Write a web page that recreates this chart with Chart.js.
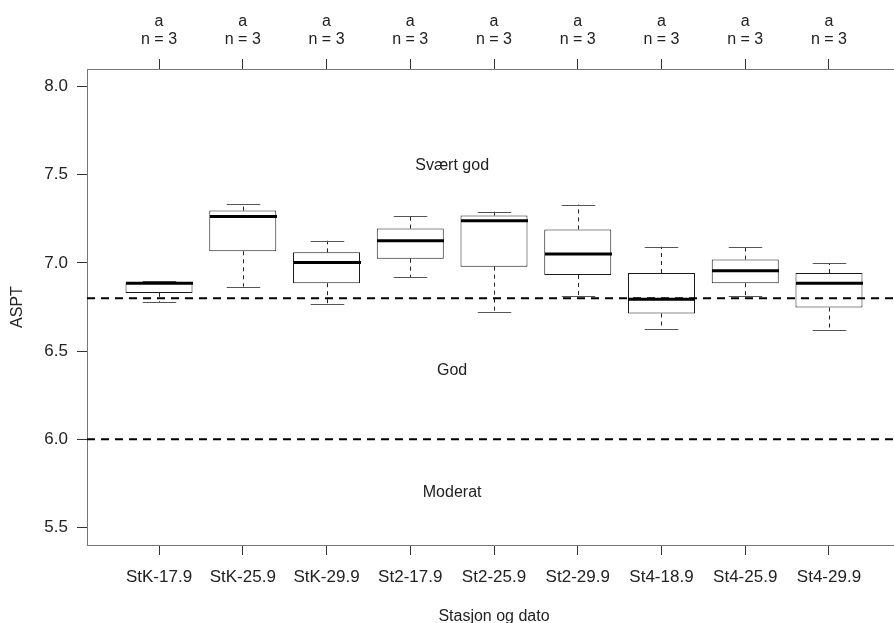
<!DOCTYPE html>
<html>
<head>
<meta charset="utf-8">
<script src="https://cdn.jsdelivr.net/npm/chart.js@4"></script>
<style>
  body { margin: 0; background: #fff; overflow: hidden; }
  #wrap { width: 910px; height: 623px; }
</style>
</head>
<body>
<div id="wrap"><canvas id="asptChart" width="910" height="623"></canvas></div>
<script>
const stations = ["StK-17.9", "StK-25.9", "StK-29.9", "St2-17.9", "St2-25.9", "St2-29.9", "St4-18.9", "St4-25.9", "St4-29.9"];
const groupLetters = ["a", "a", "a", "a", "a", "a", "a", "a", "a"];
const groupSizes = [3, 3, 3, 3, 3, 3, 3, 3, 3];
const whiskerLow = [6.78, 6.866, 6.766, 6.919, 6.719, 6.81, 6.625, 6.81, 6.62];
const quartile1 = [6.83, 7.066, 6.885, 7.024, 6.979, 6.932, 6.713, 6.885, 6.747];
const medians = [6.885, 7.263, 7.003, 7.126, 7.239, 7.051, 6.794, 6.955, 6.885];
const quartile3 = [6.89, 7.297, 7.06, 7.195, 7.269, 7.19, 6.943, 7.019, 6.943];
const whiskerHigh = [6.895, 7.333, 7.126, 7.267, 7.29, 7.331, 7.092, 7.092, 7.0];
const yTickValues = [5.5, 6.0, 6.5, 7.0, 7.5, 8.0];
const classLimits = [6.8, 6.0];
const classNames = ["Svært god", "God", "Moderat"];
const classNameLevels = [7.55, 6.39, 5.7];

const positions = stations.map((s, i) => i + 1);
const font = "Liberation Sans, Arial, sans-serif";

const boxExtras = {
    id: "boxExtras",
    afterDatasetsDraw(chart) {
        const { ctx, chartArea, scales } = chart;
        const x = scales.x, y = scales.y;
        const half = (x.getPixelForValue(1.4) - x.getPixelForValue(1)); // box half width
        ctx.save();
        ctx.beginPath();
        ctx.rect(chartArea.left, chartArea.top, chartArea.right - chartArea.left, chartArea.bottom - chartArea.top);
        ctx.clip();

        positions.forEach((p, i) => {
            const cx = Math.round(x.getPixelForValue(p)) + 0.5;
            // whiskers
            ctx.strokeStyle = "#222";
            ctx.lineWidth = 1;
            ctx.setLineDash([4, 4]);
            ctx.beginPath();
            ctx.moveTo(cx, y.getPixelForValue(quartile3[i]));
            ctx.lineTo(cx, y.getPixelForValue(whiskerHigh[i]));
            ctx.moveTo(cx, y.getPixelForValue(quartile1[i]));
            ctx.lineTo(cx, y.getPixelForValue(whiskerLow[i]));
            ctx.stroke();
            // staples
            ctx.setLineDash([]);
            ctx.strokeStyle = "#555";
            ctx.beginPath();
            [whiskerHigh[i], whiskerLow[i]].forEach(v => {
                const py = Math.round(y.getPixelForValue(v)) + 0.5;
                ctx.moveTo(cx - half / 2, py);
                ctx.lineTo(cx + half / 2, py);
            });
            ctx.stroke();
            // median
            ctx.strokeStyle = "#000";
            ctx.lineWidth = 3;
            ctx.beginPath();
            const my = y.getPixelForValue(medians[i]);
            ctx.moveTo(cx - half, my);
            ctx.lineTo(cx + half, my);
            ctx.stroke();
        });

        // class limits
        ctx.strokeStyle = "#000";
        ctx.lineWidth = 2;
        ctx.setLineDash([8, 6]);
        classLimits.forEach(v => {
            const py = y.getPixelForValue(v);
            ctx.beginPath();
            ctx.moveTo(chartArea.left, py);
            ctx.lineTo(chartArea.right, py);
            ctx.stroke();
        });

        // class names
        ctx.setLineDash([]);
        ctx.fillStyle = "#222";
        ctx.font = "16px " + font;
        ctx.textAlign = "center";
        ctx.textBaseline = "middle";
        classNames.forEach((t, i) => {
            ctx.fillText(t, x.getPixelForValue(4.5), y.getPixelForValue(classNameLevels[i]));
        });
        ctx.restore();
    }
};

new Chart(document.getElementById("asptChart"), {
    type: "bar",
    data: {
        datasets: [
            {
                label: "ASPT",
                data: positions.map((p, i) => ({ x: p, y: [quartile1[i], quartile3[i]] })),
                backgroundColor: "#fff",
                borderColor: "#1a1a1a",
                borderWidth: 1,
                borderSkipped: false,
                barPercentage: 1,
                categoryPercentage: 0.8,
            },
        ],
    },
    options: {
        responsive: false,
        animation: false,
        layout: { padding: { top: 0, right: 9, bottom: 0, left: 0 } },
        plugins: {
            legend: { display: false },
            tooltip: { enabled: false },
        },
        scales: {
            x: {
                type: "linear",
                position: "bottom",
                offset: false,
                min: 0.14,
                max: 9.86,
                afterBuildTicks: s => { s.ticks = positions.map(v => ({ value: v })); },
                afterFit: s => { s.height = 78; },
                ticks: {
                    autoSkip: false,
                    maxRotation: 0,
                    padding: 12,
                    color: "#222",
                    font: { family: font, size: 17 },
                    callback: v => stations[v - 1],
                },
                grid: { offset: false, drawOnChartArea: false, tickLength: 10, color: "#333" },
                border: { color: "#777", width: 1 },
                title: {
                    display: true,
                    text: "Stasjon og dato",
                    color: "#222",
                    font: { family: font, size: 16, lineHeight: 0.85 },
                    padding: { top: 0, bottom: 0 },
                },
            },
            xTop: {
                type: "linear",
                position: "top",
                offset: false,
                min: 0.14,
                max: 9.86,
                afterBuildTicks: s => { s.ticks = positions.map(v => ({ value: v })); },
                afterFit: s => { s.height = 69; },
                ticks: {
                    autoSkip: false,
                    maxRotation: 0,
                    padding: 10,
                    color: "#222",
                    font: { family: font, size: 16, lineHeight: 1.15 },
                    callback: v => [groupLetters[v - 1], "n = " + groupSizes[v - 1]],
                },
                grid: { offset: false, drawOnChartArea: false, tickLength: 10, color: "#333" },
                border: { color: "#777", width: 1 },
            },
            y: {
                min: 5.4,
                max: 8.1,
                afterBuildTicks: s => { s.ticks = yTickValues.map(v => ({ value: v })); },
                afterFit: s => { s.width = 87; },
                ticks: {
                    padding: 9,
                    color: "#222",
                    font: { family: font, size: 17 },
                    callback: v => v.toFixed(1),
                },
                grid: { drawOnChartArea: false, tickLength: 10, color: "#333" },
                border: { color: "#777", width: 1 },
                title: {
                    display: true,
                    text: "ASPT",
                    color: "#222",
                    font: { family: font, size: 16 },
                    padding: { top: 8, bottom: 0 },
                },
            },
        },
    },
    plugins: [boxExtras],
});
</script>
</body>
</html>
